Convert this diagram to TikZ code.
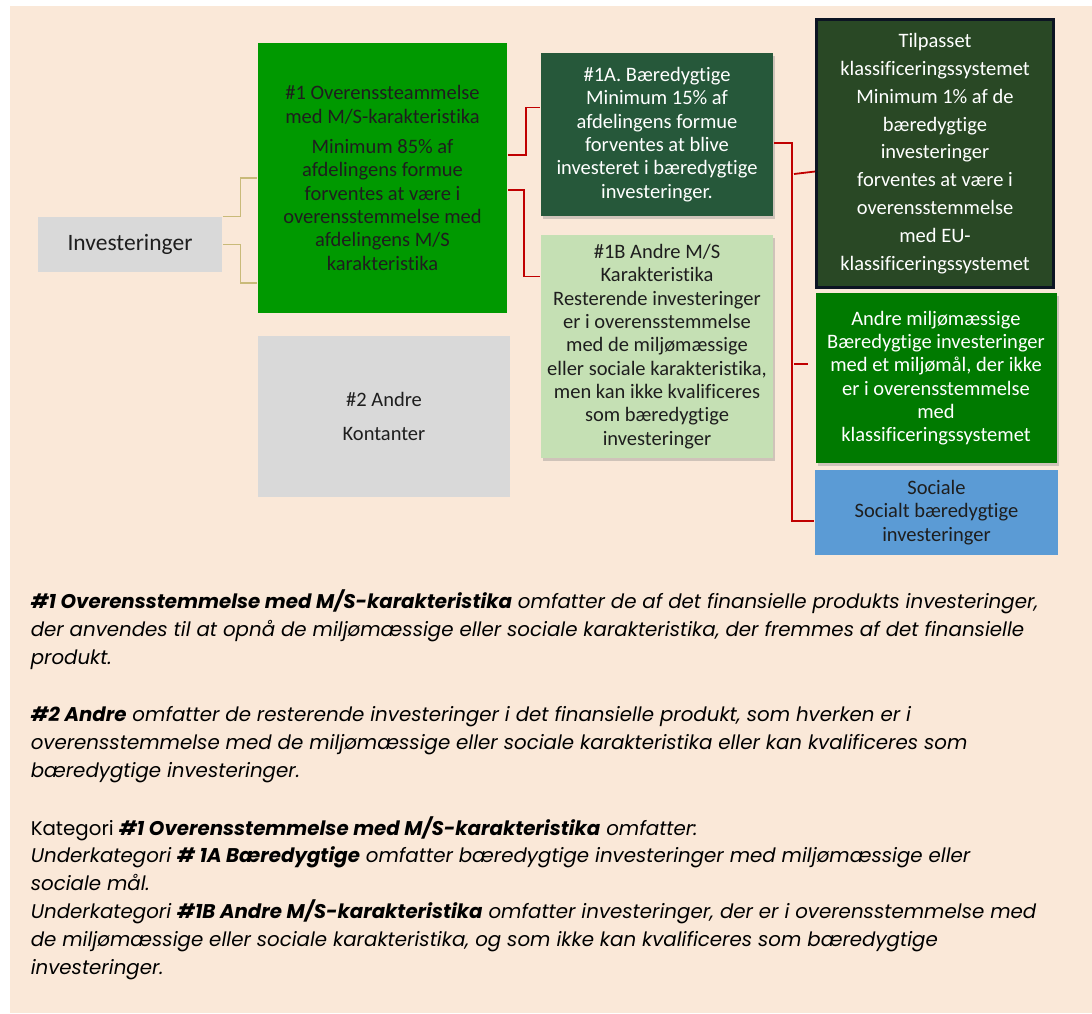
\documentclass[tikz,border=0pt]{standalone}
\usepackage{fontspec}
\setmainfont{Poppins}
\newfontfamily\boxfont[Ligatures=NoCommon]{Carlito}
\usetikzlibrary{calc,shadows}
\definecolor{peach}{RGB}{250,232,216}
\definecolor{tanline}{RGB}{201,186,121}
\definecolor{redline}{RGB}{192,0,0}
\definecolor{msgreen}{RGB}{0,153,0}
\definecolor{boxgray}{RGB}{217,217,217}
\definecolor{bgreen}{RGB}{38,88,58}
\definecolor{lightgreen}{RGB}{197,224,180}
\definecolor{eugreen}{RGB}{41,72,37}
\definecolor{euborder}{RGB}{12,20,35}
\definecolor{envgreen}{RGB}{0,122,0}
\definecolor{socblue}{RGB}{91,155,213}
\definecolor{darktext}{RGB}{30,30,30}
\begin{document}
\begin{tikzpicture}[x=1pt,y=-1pt,
                    line width=1.5pt]
    \tikzstyle{box}=[rectangle,inner sep=0pt,align=center,text=darktext,
                     font=\boxfont\fontsize{20.5}{23.3}\selectfont]
    \tikzstyle{shadowed}=[drop shadow={shadow xshift=2pt,shadow yshift=-3pt,opacity=.35}]
    \tikzstyle{whitebox}=[box, text=white]
    \tikzstyle{tanlink}=[draw=tanline, line width=1.2pt]
    \tikzstyle{redlink}=[draw=redline, line width=1.8pt]
    \tikzstyle{note}=[anchor=base west, align=left, inner sep=0pt,
                      font=\itshape\fontsize{19.8}{27.8}\selectfont]

    \fill[white] (0,0) rectangle (1092,1013);
    \fill[peach] (10,6) rectangle (1092,1013);

    \node[box, fill=boxgray, minimum width=184pt, minimum height=55pt,
          font=\boxfont\fontsize{23.5}{26}\selectfont] (inv) at (130,244.5) {Investeringer};
    \node[box, fill=msgreen, minimum width=249pt, minimum height=270pt] (ms) at (382.5,178)
        {\#1 Overenssteammelse\\ med M/S-karakteristika\\[7pt] Minimum 85\% af\\ afdelingens formue\\
         forventes at være i\\ overensstemmelse med\\ afdelingens M/S\\ karakteristika};
    \node[box, fill=boxgray, minimum width=252pt, minimum height=161pt] (oth) at (384,416.5)
        {\#2 Andre\\[10pt] Kontanter};
    \node[whitebox, shadowed, fill=bgreen, minimum width=232pt, minimum height=163pt] (sus) at (657,134.5)
        {\#1A. Bæredygtige\\ Minimum 15\% af\\ afdelingens formue\\ forventes at blive\\
         investeret i bæredygtige\\ investeringer.};
    \node[box, shadowed, fill=lightgreen, minimum width=232pt, minimum height=223pt] (oms) at (657,346.5)
        {\#1B Andre M/S\\ Karakteristika\\ Resterende investeringer\\ er i overensstemmelse\\
         med de miljømæssige\\ eller sociale karakteristika,\\ men kan ikke kvalificeres\\
         som bæredygtige\\ investeringer};
    \node[whitebox, fill=eugreen, draw=euborder, line width=3pt, minimum width=237pt, minimum height=268pt,
          font=\boxfont\fontsize{20.5}{27.8}\selectfont] (eu) at (935,153.5)
        {Tilpasset\\ klassificeringssystemet\\ Minimum 1\% af de\\ bæredygtige\\ investeringer\\
         forventes at være i\\ overensstemmelse\\ med EU-\\ klassificeringssystemet};
    \node[whitebox, shadowed, fill=envgreen, minimum width=241pt, minimum height=170pt] (env) at (936,378)
        {Andre miljømæssige\\ Bæredygtige investeringer\\ med et miljømål, der ikke\\
         er i overensstemmelse\\ med\\ klassificeringssystemet};
    \node[box, fill=socblue, minimum width=243pt, minimum height=85pt] (soc) at (936.5,512.5)
        {Sociale\\ Socialt bæredygtige\\ investeringer};

    \draw[tanlink] (inv.north east) -- ++(18,0) |- (ms.west);
    \draw[tanlink] (inv.east) -- ++(18,0) |- ($(ms.west)+(0,105)$);
    \draw[redlink] ($(ms.east)+(0,-23)$) -- ++(18,0) |- ($(sus.west)+(0,-27)$);
    \draw[redlink] ($(ms.east)+(0,12)$) -- ++(16,0) |- ($(oms.west)+(0,-70)$);
    \draw[redlink] ($(sus.east)+(0,8.5)$) -- ++(18,0) |- ($(soc.west)+(0,8.5)$);
    \coordinate (euend) at (794,174);
    \coordinate (envend) at (794,364);
    \draw[redlink] (euend) -- ($(eu.west)+(0,18)$);
    \draw[redlink, shorten >=7pt] (envend) -- ($(env.west)+(0,-14)$);

    \node[note] (note1) at (30,664)
        {\textbf{\#1 Overensstemmelse med M/S-karakteristika} omfatter de af det finansielle produkts investeringer,\\
         der anvendes til at opnå de miljømæssige eller sociale karakteristika, der fremmes af det finansielle\\
         produkt.};
    \node[note] (note2) at (30,777)
        {\textbf{\#2 Andre} omfatter de resterende investeringer i det finansielle produkt, som hverken er i\\
         overensstemmelse med de miljømæssige eller sociale karakteristika eller kan kvalificeres som\\
         bæredygtige investeringer.};
    \node[note] (note3) at (30,974)
        {\upshape Kategori \itshape\textbf{\#1 Overensstemmelse med M/S-karakteristika} omfatter:\\
         Underkategori \textbf{\# 1A Bæredygtige} omfatter bæredygtige investeringer med miljømæssige eller\\
         sociale mål.\\
         Underkategori \textbf{\#1B Andre M/S-karakteristika} omfatter investeringer, der er i overensstemmelse med\\
         de miljømæssige eller sociale karakteristika, og som ikke kan kvalificeres som bæredygtige\\
         investeringer.};
\end{tikzpicture}
\end{document}
